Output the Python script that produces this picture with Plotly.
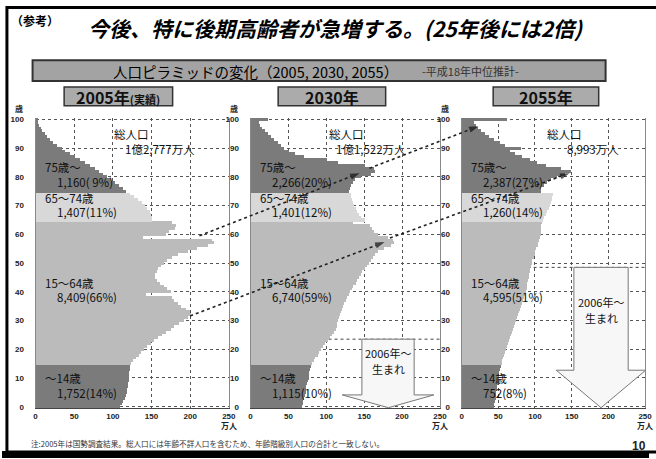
import plotly.graph_objects as go

W, H = 656, 459

# ---------------- data ----------------
ages = list(range(101))

pop_2005 = [
    109, 111, 113, 115, 117, 118, 118, 119, 119, 120,
    120, 120, 120, 121, 121, 123, 126, 129, 133, 136,
    140, 144, 149, 153, 158, 163, 168, 174, 179, 185,
    191, 197, 200, 199, 194, 188, 183, 179, 176, 142,
    174, 170, 166, 161, 157, 154, 154, 156, 158, 162,
    166, 170, 176, 184, 196, 208, 222, 230, 228, 139,
    168, 172, 180, 181, 176, 150, 150, 149, 147, 144,
    141, 137, 132, 127, 121, 116, 112, 107, 102, 97,
    92, 86, 81, 76, 70, 64, 57, 50, 44, 38,
    33, 27, 22, 18, 14, 11, 8, 6, 4, 3,
    2]

pop_2030 = [
    67, 68, 69, 70, 71, 72, 73, 73, 74, 75,
    76, 77, 77, 78, 79, 81, 83, 85, 88, 90,
    92, 95, 98, 101, 104, 107, 110, 112, 113, 114,
    115, 116, 118, 119, 120, 121, 123, 125, 127, 129,
    131, 133, 135, 138, 140, 143, 145, 147, 150, 153,
    156, 158, 161, 164, 168, 175, 185, 189, 188, 181,
    168, 163, 160, 157, 135, 150, 145, 142, 140, 138,
    136, 134, 133, 132, 132, 130, 131, 132, 134, 137,
    145, 158, 164, 162, 150, 115, 100, 70, 58, 50,
    44, 40, 35, 31, 27, 23, 19, 15, 12, 10,
    22]

pop_2055 = [
    43, 44, 45, 46, 47, 47, 48, 48, 49, 50,
    50, 51, 51, 52, 53, 54, 55, 56, 57, 59,
    60, 61, 63, 64, 66, 67, 68, 70, 71, 72,
    74, 75, 76, 78, 79, 80, 82, 83, 84, 86,
    87, 88, 89, 89, 90, 91, 91, 92, 93, 94,
    95, 96, 98, 99, 100, 101, 103, 104, 105, 106,
    107, 108, 108, 108, 109, 110, 112, 114, 116, 118,
    120, 121, 122, 123, 124, 107, 108, 112, 116, 121,
    130, 140, 148, 135, 115, 102, 92, 82, 72, 66,
    80, 58, 52, 44, 37, 32, 26, 22, 19, 17,
    61]

years = [2005, 2030, 2055]
panel_titles = ["2005年", "2030年", "2055年"]
panel_title_notes = ["(実績)", "", ""]

group_names = ["〜14歳", "15〜64歳", "65〜74歳", "75歳〜"]
group_start = [0, 15, 65, 75]
group_values_2005 = ["1,752(14%)", "8,409(66%)", "1,407(11%)", "1,160( 9%)"]
group_values_2030 = ["1,115(10%)", "6,740(59%)", "1,401(12%)", "2,266(20%)"]
group_values_2055 = ["752(8%)", "4,595(51%)", "1,260(14%)", "2,387(27%)"]
total_labels = ["1億2,777万人", "1億1,522万人", "8,993万人"]

x_ticks = [0, 50, 100, 150, 200, 250]
y_ticks = [0, 10, 20, 30, 40, 50, 60, 70, 80, 90, 100]

birth_year = 2006
birth_label_lines = ["2006年〜", "生まれ"]

# cohort arrows: (from panel, value, age) -> (to panel, value, age)
cohort_from_panel = [0, 1, 0, 1]
cohort_from_value = [212, 157, 200, 184]
cohort_from_age = [59.5, 83.0, 31.6, 58.7]
cohort_to_panel = [1, 2, 1, 2]
cohort_to_value = [144, 23, 177, 147]
cohort_to_age = [81.3, 97.6, 57.3, 81.3]

title_text = "今後、特に後期高齢者が急増する。(25年後には2倍)"
ref_text = "（参考）"
banner_text = "人口ピラミッドの変化（2005, 2030, 2055）"
banner_sub = "-平成18年中位推計-"
note_text = "注:2005年は国勢調査結果。総人口には年齢不詳人口を含むため、年齢階級別人口の合計と一致しない。"
page_no = "10"

# ---------------- layout constants ----------------
JP = "Noto Sans CJK JP"
NUM = "Liberation Sans"
PLOT_TOP, PLOT_BOT = 116.5, 410.5
panel_px = [(34, 230), (252, 444), (466, 652)]
XMAX = 250
COL_DARK, COL_MID, COL_LIGHT = "#7b7b7b", "#bbbbbb", "#d8d8d8"
group_colors = [COL_DARK, COL_MID, COL_LIGHT, COL_DARK]

pops = [pop_2005, pop_2030, pop_2055]
group_values = [group_values_2005, group_values_2030, group_values_2055]


def px(x):
    return x / W


def py(y):
    return 1 - y / H


def to_px(p, value, age):
    L, R = panel_px[p]
    return (L + value / XMAX * (R - L),
            PLOT_BOT - (age + 0.5) / 101 * (PLOT_BOT - PLOT_TOP))


def group_of(age):
    g = 0
    for i, s in enumerate(group_start):
        if age >= s:
            g = i
    return g


annotations = []


def note(x, y, text, size, color="#111", xanchor="center", weight="normal",
         family=JP, style="normal", xref="paper", yref="paper"):
    if xref == "paper":
        x, y = px(x), py(y)
    annotations.append(dict(
        x=x, y=y, xref=xref, yref=yref, text=text, showarrow=False,
        xanchor=xanchor, yanchor="middle",
        font=dict(family=family, size=size, color=color, weight=weight, style=style)))


fig = go.Figure()
shapes = []

for i, pop in enumerate(pops):
    sfx = "" if i == 0 else str(i + 1)
    colors = [group_colors[group_of(a)] for a in ages]
    fig.add_trace(go.Bar(
        x=pop, y=ages, orientation="h", width=1.06,
        marker=dict(color=colors, line=dict(width=0)),
        xaxis="x" + sfx, yaxis="y" + sfx, showlegend=False, hoverinfo="skip"))
    L, R = panel_px[i]
    tickfont = dict(family=NUM, size=8, color="#222", weight="bold")
    fig.update_layout({
        "xaxis" + sfx: dict(
            domain=[px(L), px(R)], range=[0, XMAX], anchor="y" + sfx,
            tickvals=x_ticks, showgrid=True, gridcolor="#555", griddash="dot",
            gridwidth=1, showline=True, linecolor="#444", linewidth=1,
            zeroline=False, tickfont=tickfont, ticks="", fixedrange=True),
        "yaxis" + sfx: dict(
            domain=[py(PLOT_BOT), py(PLOT_TOP)], range=[-0.5, 100.5],
            anchor="x" + sfx, tickvals=y_ticks, showgrid=True,
            gridcolor="#555", griddash="dot", gridwidth=1, showline=True,
            mirror=True, linecolor="#888", linewidth=1, zeroline=False,
            tickfont=tickfont, ticks="", ticklabelstandoff=9, fixedrange=True),
    })

    note(L - 17, 107, "歳", 8, "#222", weight="bold")
    note(R, 428, "万人", 8, "#222", weight="bold")

    name_y = {3: 166, 2: 198, 1: 284, 0: 380}
    val_y = {3: 181, 2: 212, 1: 298, 0: 395}
    for g in range(4):
        note(L + 8, name_y[g], group_names[g], 11.5, xanchor="left")
        note(L + 20, val_y[g], group_values[i][g], 11.5, xanchor="left")

    tot_cx = [131, 349, 570][i]
    tot_rx = [198, 412, 628][i]
    note(tot_cx, 133, "総人口", 11.5)
    note(tot_rx, 148, total_labels[i], 11.5, xanchor="right")

    bx0, bx1 = [(63, 173), (280, 389), (498, 605)][i]
    shapes.append(dict(type="rect", xref="paper", yref="paper",
                       x0=px(bx0), x1=px(bx1), y0=py(104), y1=py(85),
                       fillcolor="#ababab", line=dict(color="#333", width=1.5)))
    txt = panel_titles[i]
    if panel_title_notes[i]:
        txt += "<span style='font-size:11px'>" + panel_title_notes[i] + "</span>"
    note((bx0 + bx1) / 2, 95, txt, 16, weight="bold")

# born-2006+ block arrows (panels 2 and 3)
arrow_geom = {1: dict(shaft=(147, 216), wing=(121, 242), wing_age=4.1, tip=182, text_y=(355, 371)),
              2: dict(shaft=(153, 227), wing=(129, 251), wing_age=12.7, tip=190, text_y=(303, 319))}
for i, gm in arrow_geom.items():
    sfx = str(i + 1)
    top = years[i] - birth_year - 0.5
    shapes.append(dict(type="line", xref="x" + sfx, yref="y" + sfx, x0=0, x1=XMAX,
                       y0=top, y1=top, line=dict(color="#444", width=1, dash="dot"),
                       layer="below"))
    s0, s1 = gm["shaft"]
    w0, w1 = gm["wing"]
    wa = gm["wing_age"]
    path = (f"M {s0},{top} L {s1},{top} L {s1},{wa} L {w1},{wa} "
            f"L {gm['tip']},-0.35 L {w0},{wa} L {s0},{wa} Z")
    shapes.append(dict(type="path", xref="x" + sfx, yref="y" + sfx, path=path,
                       fillcolor="#f7f7f7", line=dict(color="#777", width=1), layer="above"))
    cx, _ = to_px(i, gm["tip"], 0)
    for line_txt, ty in zip(birth_label_lines, gm["text_y"]):
        note(cx, ty, line_txt, 11)

# overlay axis for cohort arrows
fig.update_layout(
    xaxis4=dict(domain=[0, 1], range=[0, W], visible=False, anchor="y4", fixedrange=True),
    yaxis4=dict(domain=[0, 1], range=[H, 0], visible=False, anchor="x4", fixedrange=True),
)
for k in range(len(cohort_from_panel)):
    x0, y0 = to_px(cohort_from_panel[k], cohort_from_value[k], cohort_from_age[k])
    x1, y1 = to_px(cohort_to_panel[k], cohort_to_value[k], cohort_to_age[k])
    fig.add_trace(go.Scatter(
        x=[x0, x1], y=[y0, y1], mode="lines+markers", xaxis="x4", yaxis="y4",
        line=dict(color="#222", width=1.6, dash="dot"),
        marker=dict(symbol="arrow", size=[0, 10], angleref="previous", color="#111",
                    line=dict(width=0)),
        showlegend=False, hoverinfo="skip"))

# banner and titles
shapes.append(dict(type="rect", xref="paper", yref="paper", x0=px(31), x1=px(612),
                   y0=py(79), y1=py(58), fillcolor="#a3a3a3",
                   line=dict(color="#333", width=2)))
note(257, 69, banner_text, 14.5, "#000")
note(475, 69, banner_sub, 11, "#333")
note(338, 25, title_text, 21, "#000", weight="bold", style="italic")
note(33, 18, ref_text, 12, "#000", weight="bold")
note(27, 446, note_text, 7.6, "#333", xanchor="left")
note(646, 449, page_no, 12, "#222", weight="bold", family=NUM)

# slide frame
shapes.append(dict(type="rect", xref="paper", yref="paper", x0=px(5), x1=px(670),
                   y0=py(455), y1=py(4.5), line=dict(color="#000", width=3),
                   fillcolor="rgba(0,0,0,0)"))
shapes.append(dict(type="rect", xref="paper", yref="paper", x0=px(0), x1=px(W),
                   y0=py(H + 2), y1=py(454), line=dict(width=0), fillcolor="#000"))

fig.update_layout(
    width=W, height=H, autosize=False, margin=dict(l=0, r=0, t=0, b=0),
    paper_bgcolor="white", plot_bgcolor="rgba(0,0,0,0)", bargap=0,
    shapes=shapes, annotations=annotations, showlegend=False,
)

fig.write_html("out.html", config={"displayModeBar": False},
               post_script="document.body.style.margin='0';document.body.style.overflow='hidden';")
